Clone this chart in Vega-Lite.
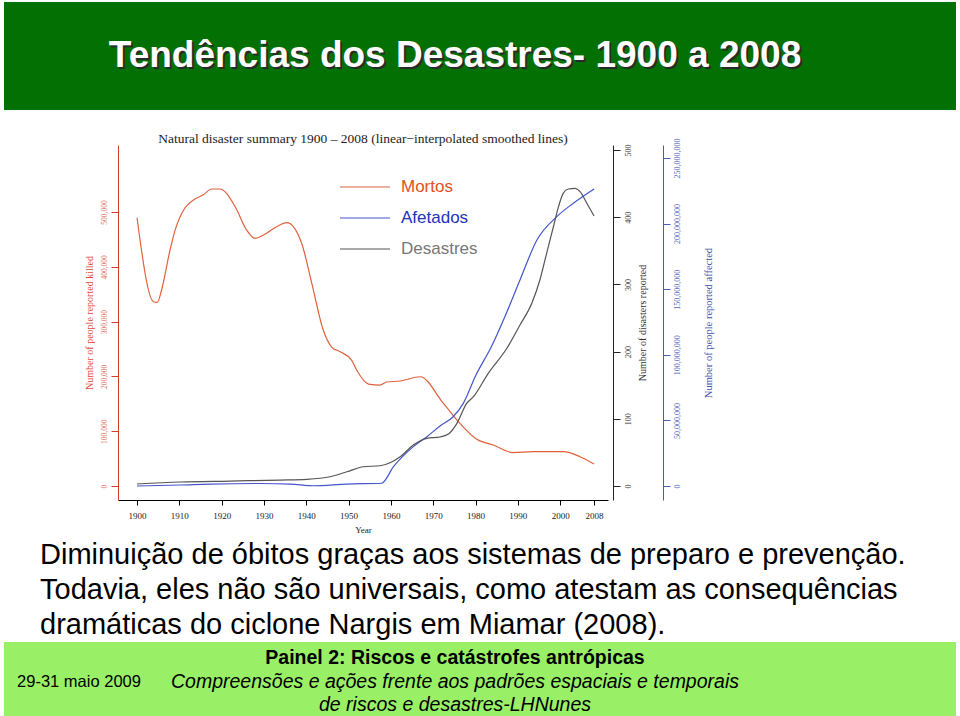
{
  "$schema": "https://vega.github.io/schema/vega-lite/v6.json",
  "background": "white",
  "padding": {"left": 4, "top": 2, "right": 4, "bottom": 0},
  "bounds": "flush",
  "spacing": 0,
  "config": {"view": {"stroke": null}, "font": "Liberation Sans"},
  "datasets": {
    "killed": [
      {"year": 1900, "killed": 489600}, {"year": 1903.9, "killed": 336300}, {"year": 1904.8, "killed": 335200},
      {"year": 1905.8, "killed": 357700}, {"year": 1907.8, "killed": 430700}, {"year": 1909.0, "killed": 467100},
      {"year": 1911.3, "killed": 507300}, {"year": 1913.7, "killed": 523700}, {"year": 1915.6, "killed": 531000},
      {"year": 1917.7, "killed": 542000}, {"year": 1919.6, "killed": 542000}, {"year": 1923.2, "killed": 509700},
      {"year": 1925.9, "killed": 467100}, {"year": 1927.9, "killed": 452000}, {"year": 1929.9, "killed": 458000},
      {"year": 1933.0, "killed": 473200}, {"year": 1935.4, "killed": 480500}, {"year": 1938.9, "killed": 442900},
      {"year": 1941.3, "killed": 369900}, {"year": 1944.0, "killed": 284700}, {"year": 1946.0, "killed": 253600},
      {"year": 1948.0, "killed": 245100}, {"year": 1950.7, "killed": 229900}, {"year": 1951.9, "killed": 211700},
      {"year": 1954.7, "killed": 186100}, {"year": 1957.4, "killed": 184300}, {"year": 1959.0, "killed": 189800},
      {"year": 1962.2, "killed": 191600}, {"year": 1966.9, "killed": 199400}, {"year": 1972.4, "killed": 150900},
      {"year": 1976.3, "killed": 114400}, {"year": 1980.3, "killed": 85200}, {"year": 1984.2, "killed": 74800},
      {"year": 1988.9, "killed": 60800}, {"year": 1993.7, "killed": 62600}, {"year": 2000.7, "killed": 62600},
      {"year": 2004.7, "killed": 53500}, {"year": 2008, "killed": 40100}
    ],
    "disasters": [
      {"year": 1900, "disasters": 3.0}, {"year": 1910.2, "disasters": 6}, {"year": 1922, "disasters": 7.4},
      {"year": 1933.8, "disasters": 8.9}, {"year": 1940.1, "disasters": 10}, {"year": 1945.6, "disasters": 13.8},
      {"year": 1949.6, "disasters": 21.3}, {"year": 1953.5, "disasters": 28.7}, {"year": 1957.4, "disasters": 30.2},
      {"year": 1959.8, "disasters": 34.7}, {"year": 1962.2, "disasters": 43.6}, {"year": 1965.3, "disasters": 61.0},
      {"year": 1968.5, "disasters": 71.0}, {"year": 1971.6, "disasters": 72.9}, {"year": 1973.6, "disasters": 77.4},
      {"year": 1975.6, "disasters": 93.3}, {"year": 1977.9, "disasters": 123.1}, {"year": 1979.5, "disasters": 132.9},
      {"year": 1983.0, "disasters": 167.7}, {"year": 1987.4, "disasters": 205}, {"year": 1990.5, "disasters": 239.6},
      {"year": 1993.3, "disasters": 271.9}, {"year": 1995.2, "disasters": 306.5}, {"year": 1996.8, "disasters": 346.3},
      {"year": 1998.4, "disasters": 385.8}, {"year": 1999.6, "disasters": 415.6}, {"year": 2000.7, "disasters": 435.5},
      {"year": 2001.9, "disasters": 441.9}, {"year": 2003.5, "disasters": 443.0}, {"year": 2004.7, "disasters": 437.9},
      {"year": 2006.3, "disasters": 420.7}, {"year": 2008, "disasters": 401.8}
    ],
    "affected": [
      {"year": 1900, "affected": 0}, {"year": 1910.2, "affected": 760000}, {"year": 1917.3, "affected": 1500000},
      {"year": 1929.1, "affected": 1900000}, {"year": 1936.2, "affected": 1500000}, {"year": 1941.7, "affected": 200000},
      {"year": 1949.6, "affected": 1500000}, {"year": 1957.8, "affected": 2100000}, {"year": 1960.6, "affected": 14700000},
      {"year": 1965.3, "affected": 30000000}, {"year": 1968.5, "affected": 37600000}, {"year": 1971.6, "affected": 45700000},
      {"year": 1974.7, "affected": 52800000}, {"year": 1977.1, "affected": 63000000}, {"year": 1980.1, "affected": 84600000},
      {"year": 1983.7, "affected": 105900000}, {"year": 1987.0, "affected": 129600000}, {"year": 1990.5, "affected": 157000000},
      {"year": 1994.5, "affected": 187500000}, {"year": 1999.2, "affected": 205300000}, {"year": 2003.1, "affected": 215500000},
      {"year": 2008, "affected": 226400000}
    ]
  },
  "vconcat": [
    {
      "width": 952, "height": 108,
      "view": {"fill": "#037003", "stroke": null},
      "data": {"values": [{"t": "Tendências dos Desastres- 1900 a 2008"}]},
      "layer": [
        {"mark": {"type": "text", "font": "Liberation Sans", "fontSize": 37, "fontWeight": "bold", "fill": "#2a2a2a", "align": "center", "baseline": "middle", "dx": -23, "dy": 2},
         "encoding": {"text": {"field": "t"}}},
        {"mark": {"type": "text", "font": "Liberation Sans", "fontSize": 37, "fontWeight": "bold", "fill": "white", "align": "center", "baseline": "middle", "dx": -25, "dy": 0},
         "encoding": {"text": {"field": "t"}}}
      ]
    },
    {"width": 952, "height": 35, "data": {"values": []}, "mark": "point"},
    {
      "bounds": "flush",
      "spacing": 0,
      "hconcat": [
        {"width": 114, "height": 355, "data": {"values": []}, "mark": "point"},
        {
          "width": 490, "height": 355,
          "title": {"text": "Natural disaster summary 1900 – 2008 (linear−interpolated smoothed lines)", "font": "Liberation Serif", "fontSize": 13.5, "fontWeight": "normal", "color": "#222222", "offset": -8, "anchor": "middle"},
          "encoding": {
            "x": {"field": "year", "type": "quantitative",
                  "scale": {"domain": [1895.5, 2011.3], "nice": false, "zero": false},
                  "axis": {"title": "Year", "values": [1900, 1910, 1920, 1930, 1940, 1950, 1960, 1970, 1980, 1990, 2000, 2008],
                           "format": "d", "labelFont": "Liberation Serif", "labelFontSize": 9, "labelColor": "#222222",
                           "titleFont": "Liberation Serif", "titleFontSize": 9, "titleFontWeight": "normal", "titleColor": "#222222",
                           "tickSize": 5, "labelPadding": 6, "titlePadding": 5, "domainColor": "#000000", "tickColor": "#000000",
                           "grid": false, "labelFlush": false}}
          },
          "layer": [
            {
              "layer": [
                {
                  "data": {"name": "killed"},
                  "mark": {"type": "line", "interpolate": "monotone", "strokeWidth": 1.2},
                  "encoding": {
                    "y": {"field": "killed", "type": "quantitative",
                          "scale": {"domain": [-25500, 622300], "nice": false, "zero": false},
                          "axis": {"orient": "left", "title": "Number of people reported killed",
                                   "values": [0, 100000, 200000, 300000, 400000, 500000], "format": ",d",
                                   "labelAngle": 270, "labelAlign": "center", "labelBaseline": "bottom",
                                   "labelFont": "Liberation Serif", "labelFontSize": 7.5, "labelColor": "#e07060",
                                   "tickSize": 7, "labelPadding": 3, "tickColor": "#d04030", "domainColor": "#d04030",
                                   "titleFont": "Liberation Serif", "titleFontSize": 10, "titleFontWeight": "normal",
                                   "titleColor": "#d84a3a", "titlePadding": 6, "grid": false}},
                    "color": {"datum": "Mortos", "type": "nominal",
                              "scale": {"domain": ["Mortos", "Afetados", "Desastres"], "range": ["#e0603c", "#4455cc", "#555555"]},
                              "legend": {"orient": "none", "legendX": 350, "legendY": 174, "title": null,
                                         "symbolType": "M-2.5,0H2.5", "symbolSize": 400, "symbolStrokeWidth": 1.2,
                                         "labelFont": "Liberation Sans", "labelFontSize": 17, "labelOffset": 25,
                                         "rowPadding": 12, "padding": 0, "labelLimit": 200,
                                         "encode": {"labels": {"update": {"fill": {"signal": "datum.value === 'Mortos' ? '#e0521c' : datum.value === 'Afetados' ? '#2233bb' : '#777777'"}}}}}}
                  }
                },
                {
                  "data": {"values": [{"label": "Fonte: EM-DAT"}]},
                  "mark": {"type": "text", "align": "right", "baseline": "alphabetic", "fontStyle": "italic", "fontSize": 21, "font": "Liberation Sans", "color": "#137a13"},
                  "encoding": {"x": {"datum": 2008, "type": "quantitative"}, "y": {"datum": 0, "type": "quantitative"}, "text": {"field": "label"}}
                }
              ]
            },
            {
              "data": {"name": "affected"},
              "mark": {"type": "line", "interpolate": "monotone", "strokeWidth": 1.2},
              "encoding": {
                "y": {"field": "affected", "type": "quantitative",
                      "scale": {"domain": [-10670000, 259900000], "nice": false, "zero": false},
                      "axis": {"orient": "right", "offset": 55, "title": "Number of people reported affected",
                               "values": [0, 50000000, 100000000, 150000000, 200000000, 250000000], "format": ",d",
                               "labelAngle": 270, "labelAlign": "center", "labelBaseline": "top",
                               "labelFont": "Liberation Serif", "labelFontSize": 8, "labelColor": "#5060c0",
                               "tickSize": 7, "labelPadding": 3, "tickColor": "#4a5ab8", "domainColor": "#4a5ab8",
                               "titleFont": "Liberation Serif", "titleFontSize": 10.5, "titleFontWeight": "normal",
                               "titleColor": "#4050b0", "titleAngle": 270, "titleBaseline": "top", "titlePadding": 22, "grid": false}},
                "color": {"datum": "Afetados", "type": "nominal"}
              }
            },
            {
              "data": {"name": "disasters"},
              "mark": {"type": "line", "interpolate": "monotone", "strokeWidth": 1.2},
              "encoding": {
                "y": {"field": "disasters", "type": "quantitative",
                      "scale": {"domain": [-20.8, 507.4], "nice": false, "zero": false},
                      "axis": {"orient": "right", "offset": 5, "title": "Number of disasters reported",
                               "values": [0, 100, 200, 300, 400, 500], "format": "d",
                               "labelAngle": 270, "labelAlign": "center", "labelBaseline": "top",
                               "labelFont": "Liberation Serif", "labelFontSize": 8, "labelColor": "#333333",
                               "tickSize": 7, "labelPadding": 4, "tickColor": "#222222", "domainColor": "#222222",
                               "titleFont": "Liberation Serif", "titleFontSize": 10, "titleFontWeight": "normal",
                               "titleColor": "#333333", "titleAngle": 270, "titleBaseline": "top", "titlePadding": 5, "grid": false}},
                "color": {"datum": "Desastres", "type": "nominal"}
              }
            }
          ],
          "resolve": {"scale": {"y": "independent"}, "axis": {"y": "independent"}}
        }
      ]
    },
    {"width": 952, "height": 355, "data": {"values": []}, "mark": "point"},
    {
      "width": 72, "height": 142,
      "data": {"values": [
        {"line": 1, "t": "Diminuição de óbitos graças aos sistemas de preparo e prevenção."},
        {"line": 2, "t": "Todavia, eles não são universais, como atestam as consequências"},
        {"line": 3, "t": "dramáticas do ciclone Nargis em Miamar (2008)."}]},
      "mark": {"type": "text", "align": "left", "baseline": "alphabetic", "font": "Liberation Sans", "fontSize": 29, "fill": "#000000"},
      "encoding": {
        "y": {"field": "line", "type": "ordinal", "scale": {"type": "point", "range": [64, 134], "padding": 0}, "axis": null},
        "text": {"field": "t"}
      }
    },
    {
      "bounds": "flush",
      "spacing": 0,
      "hconcat": [
        {"width": 150, "height": 74, "view": {"fill": "#99f066", "stroke": null},
         "data": {"values": [{"t": "29-31 maio 2009"}]},
         "mark": {"type": "text", "font": "Liberation Sans", "fontSize": 16.5, "fill": "#000000", "align": "center", "baseline": "middle", "dy": 3},
         "encoding": {"text": {"field": "t"}}},
        {"width": 602, "height": 74, "view": {"fill": "#99f066", "stroke": null},
         "data": {"values": [
           {"line": 1, "t": "Painel 2: Riscos e catástrofes antrópicas"},
           {"line": 2, "t": "Compreensões e ações frente aos padrões espaciais e temporais"},
           {"line": 3, "t": "de riscos e desastres-LHNunes"}]},
         "encoding": {"y": {"field": "line", "type": "ordinal", "scale": {"type": "point", "range": [16, 63], "padding": 0}, "axis": null},
                      "text": {"field": "t"}},
         "layer": [
           {"transform": [{"filter": "datum.line === 1"}],
            "mark": {"type": "text", "font": "Liberation Sans", "fontSize": 19.5, "fontWeight": "bold", "fill": "#000000", "align": "center", "baseline": "middle"}},
           {"transform": [{"filter": "datum.line > 1"}],
            "mark": {"type": "text", "font": "Liberation Sans", "fontSize": 19.5, "fontStyle": "italic", "fill": "#000000", "align": "center", "baseline": "middle"}}
         ]},
        {"width": 200, "height": 74, "view": {"fill": "#99f066", "stroke": null}, "data": {"values": []}, "mark": "point"}
      ]
    }
  ]
}
